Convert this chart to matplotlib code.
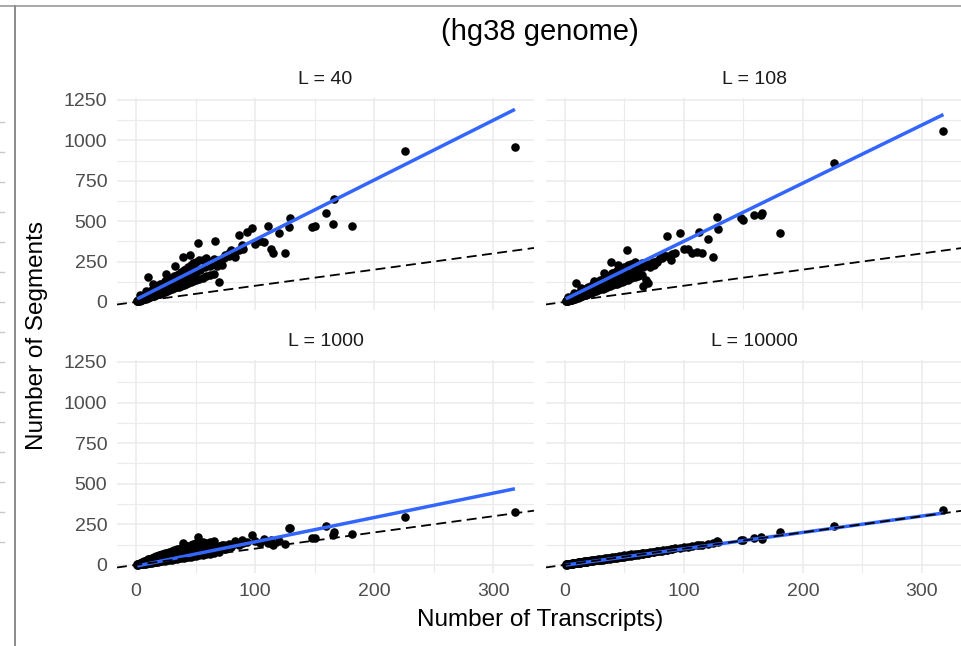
#!/usr/bin/env python3

import matplotlib
matplotlib.use("Agg")
import matplotlib.pyplot as plt
import numpy as np
from matplotlib.lines import Line2D
from matplotlib.ticker import MultipleLocator

plt.rcParams['font.family'] = ['Liberation Sans', 'DejaVu Sans']

# number of transcripts per gene (shared by all four panels)
transcripts = [
    1, 1, 2, 2, 3, 3, 4, 4, 5, 5,
    6, 6, 7, 7, 8, 8, 9, 9, 10, 10,
    11, 11, 12, 12, 13, 13, 14, 14, 15, 15,
    16, 16, 17, 17, 18, 18, 19, 19, 20, 20,
    22, 22, 24, 24, 26, 26, 28, 28, 30, 30,
    32, 32, 34, 34, 36, 36, 38, 38, 40, 40,
    42, 42, 44, 44, 46, 46, 48, 48, 50, 50,
    53, 53, 56, 56, 59, 59, 62, 62, 65, 65,
    68, 70, 72, 75, 78, 80, 83, 86, 89, 93,
    97, 100, 104, 107, 111, 113, 115, 120, 125, 128,
    129, 148, 150, 159, 166, 181, 226, 318, 10, 39,
    52, 66, 70, 3, 8, 14, 25, 33, 45, 165,
    2, 4, 6, 8, 10, 12, 14, 16, 18, 20,
    23, 26, 29, 32, 35, 38, 41, 44, 47, 50,
    54, 58, 62, 66, 70, 74, 78, 82, 86, 90,
    5, 9, 13, 17, 21, 27, 31, 37, 43, 49,
]

seg_L40 = [
    3, 8, 5, 12, 8, 18, 10, 22, 12, 28,
    15, 32, 16, 40, 20, 45, 22, 50, 24, 58,
    28, 62, 30, 70, 34, 66, 36, 80, 38, 78,
    42, 88, 45, 84, 48, 96, 50, 92, 52, 110,
    58, 112, 62, 128, 68, 130, 74, 140, 80, 150,
    84, 160, 90, 168, 95, 175, 100, 188, 105, 200,
    110, 205, 118, 215, 122, 230, 128, 238, 134, 245,
    142, 258, 150, 262, 158, 270, 165, 250, 175, 265,
    220, 245, 230, 290, 300, 320, 280, 415, 350, 435,
    456, 360, 380, 373, 470, 330, 305, 425, 305, 466,
    518, 462, 470, 549, 637, 470, 937, 961, 155, 280,
    363, 375, 126, 40, 70, 110, 170, 220, 290, 483,
    8, 15, 22, 30, 36, 44, 52, 60, 66, 74,
    85, 95, 105, 118, 130, 140, 150, 162, 175, 185,
    200, 215, 225, 245, 260, 270, 285, 300, 320, 330,
    24, 40, 58, 76, 95, 120, 140, 165, 195, 215,
]

seg_L108 = [
    3, 7, 5, 11, 8, 15, 10, 19, 12, 23,
    14, 28, 16, 32, 19, 37, 21, 42, 23, 46,
    26, 50, 28, 55, 31, 58, 34, 63, 36, 68,
    40, 72, 42, 76, 45, 80, 48, 85, 50, 92,
    56, 100, 60, 108, 66, 116, 72, 124, 78, 134,
    82, 142, 88, 150, 92, 158, 98, 168, 102, 178,
    108, 185, 112, 192, 118, 200, 124, 210, 130, 218,
    138, 230, 145, 236, 152, 245, 158, 225, 166, 240,
    136, 116, 215, 230, 250, 270, 290, 408, 260, 300,
    425, 330, 326, 300, 311, 435, 301, 388, 280, 528,
    450, 518, 505, 538, 549, 429, 858, 1060, 120, 250,
    322, 100, 230, 30, 55, 85, 130, 180, 230, 540,
    7, 14, 20, 27, 33, 40, 46, 53, 60, 66,
    76, 86, 96, 106, 116, 126, 136, 146, 155, 165,
    180, 192, 205, 218, 232, 245, 255, 270, 285, 298,
    20, 34, 50, 64, 80, 100, 116, 138, 160, 180,
]

seg_L1000 = [
    1, 5, 2, 8, 3, 11, 4, 14, 5, 17,
    6, 20, 7, 23, 8, 26, 10, 29, 11, 32,
    12, 35, 13, 38, 14, 41, 15, 44, 16, 47,
    17, 50, 18, 53, 20, 56, 21, 59, 22, 62,
    24, 66, 26, 72, 28, 76, 30, 82, 33, 86,
    35, 92, 37, 96, 40, 100, 42, 106, 44, 110,
    46, 114, 48, 118, 51, 122, 53, 128, 55, 132,
    58, 138, 62, 140, 65, 136, 68, 142, 72, 145,
    100, 80, 120, 95, 130, 110, 150, 120, 155, 140,
    184, 150, 135, 160, 135, 155, 122, 150, 126, 229,
    225, 163, 167, 241, 200, 190, 293, 328, 35, 132,
    173, 115, 90, 8, 15, 30, 50, 70, 85, 184,
    4, 8, 12, 16, 19, 23, 27, 31, 35, 38,
    44, 49, 54, 59, 64, 69, 74, 79, 84, 89,
    95, 100, 106, 110, 115, 120, 124, 128, 132, 136,
    12, 20, 28, 36, 44, 55, 62, 72, 80, 90,
]

seg_L10000 = [
    2, 3, 3, 4, 4, 5, 5, 6, 6, 8,
    7, 9, 8, 10, 9, 11, 10, 12, 11, 14,
    12, 15, 13, 16, 14, 17, 15, 18, 16, 20,
    17, 21, 18, 22, 19, 23, 20, 24, 21, 26,
    23, 28, 25, 30, 27, 32, 29, 34, 31, 36,
    33, 38, 35, 41, 37, 43, 39, 45, 41, 47,
    43, 49, 45, 51, 47, 53, 49, 56, 51, 58,
    54, 61, 57, 64, 60, 67, 63, 70, 66, 73,
    74, 76, 79, 82, 84, 88, 90, 93, 97, 101,
    106, 108, 112, 115, 120, 121, 124, 130, 135, 147,
    138, 153, 155, 165, 159, 200, 241, 338, 12, 42,
    56, 70, 75, 4, 9, 15, 27, 35, 48, 172,
    2, 4, 6, 9, 11, 13, 15, 17, 19, 22,
    25, 28, 31, 34, 38, 41, 44, 47, 50, 54,
    58, 62, 66, 71, 75, 79, 84, 88, 92, 97,
    5, 10, 14, 18, 23, 29, 33, 40, 46, 52,
]

panel_labels = ["L = 40", "L = 108", "L = 1000", "L = 10000"]
panel_segments = [seg_L40, seg_L108, seg_L1000, seg_L10000]

# linear fit (blue line)
fit_intercept = [15, 15, -8, -2]
fit_slope = [3.7, 3.6, 1.5, 1.01]

W, H = 961, 646
fig = plt.figure(figsize=(W / 100, H / 100), dpi=100)

# panel boxes in pixels: left, top, right, bottom
boxes = [
    (117, 98, 534, 310),
    (545.5, 98, 962.5, 310),
    (117, 360, 534, 573),
    (545.5, 360, 962.5, 573),
]

x = np.array(transcripts)
xfit = np.array([x.min(), x.max()])

for i, (l, t, r, b) in enumerate(boxes):
    ax = fig.add_axes([l / W, 1 - b / H, (r - l) / W, (b - t) / H])
    y = np.array(panel_segments[i])
    assert len(y) == len(x)

    ax.set_xlim(-16, 334)
    ax.set_ylim(-50, 1262)
    ax.xaxis.set_major_locator(MultipleLocator(100))
    ax.xaxis.set_minor_locator(MultipleLocator(50))
    ax.yaxis.set_major_locator(MultipleLocator(250))
    ax.yaxis.set_minor_locator(MultipleLocator(125))
    ax.grid(which='major', color='#EBEBEB', linewidth=1.1)
    ax.grid(which='minor', color='#EBEBEB', linewidth=0.8)
    ax.set_axisbelow(True)
    for s in ax.spines.values():
        s.set_visible(False)
    ax.tick_params(which='both', length=0, labelsize=14, labelcolor='#4D4D4D')
    ax.tick_params(axis='y', pad=7)
    ax.tick_params(axis='x', pad=7)
    if i < 2:
        ax.set_xticklabels([])
    if i % 2 == 1:
        ax.set_yticklabels([])

    ax.scatter(x, y, s=38, color='black', linewidths=0, zorder=2)
    ax.plot(xfit, fit_intercept[i] + fit_slope[i] * xfit, color='#3366FF',
            linewidth=2.5, zorder=3, solid_capstyle='butt')
    ax.axline((0, 0), slope=1, color='black', linewidth=1.3,
              linestyle=(0, (5.5, 3)), zorder=4)

    ax.text(0.5, 1 + 19 / (b - t), panel_labels[i], transform=ax.transAxes,
            ha='center', va='center', fontsize=14, color='#1A1A1A')

fig.text(539.5 / W, 1 - 32 / H, "(hg38 genome)", ha='center', va='center',
         fontsize=21, color='black')
fig.text(540 / W, 1 - 620 / H, "Number of Transcripts)", ha='center',
         va='center', fontsize=17.5, color='black')
fig.text(37 / W, 1 - 335.5 / H, "Number of Segments", ha='center',
         va='center', rotation=90, fontsize=17.5, color='black')

# screenshot frame around the chart
fig.add_artist(Line2D([0, 1], [1 - 6 / H, 1 - 6 / H], color='#9A9A9A',
                      linewidth=1.2, transform=fig.transFigure))
fig.add_artist(Line2D([15 / W, 15 / W], [0, 1 - 6 / H], color='#8A8A8A',
                      linewidth=1.4, transform=fig.transFigure))
for py in range(122, 570, 30):
    fig.add_artist(Line2D([0, 4 / W], [1 - py / H, 1 - py / H],
                          color='#C8C8C8', linewidth=1.0,
                          transform=fig.transFigure))

fig.savefig("out.png", dpi=100)
